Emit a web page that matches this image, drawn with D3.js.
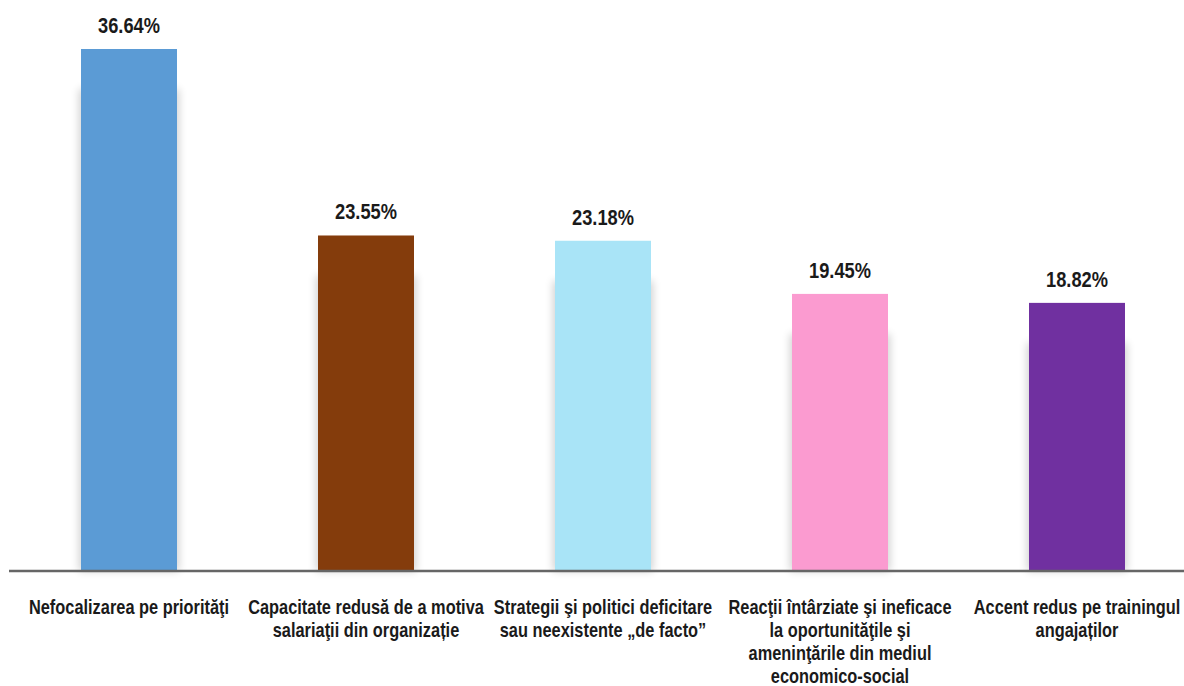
<!DOCTYPE html>
<html>
<head>
<meta charset="utf-8">
<script src="https://cdn.jsdelivr.net/npm/d3@7"></script>
<style>
  body { margin: 0; background: #fff; }
  text { font-family: "Liberation Sans", Arial, sans-serif; font-weight: bold; fill: #1a1a1a; }
</style>
</head>
<body>
<script>
// date
categorii = [
    ["Nefocalizarea pe priorităţi"],
    ["Capacitate redusă de a motiva", "salariaţii din organizație"],
    ["Strategii şi politici deficitare", "sau neexistente „de facto”"],
    ["Reacţii întârziate şi ineficace", "la oportunităţile şi", "ameninţările din mediul", "economico-social"],
    ["Accent redus pe trainingul", "angajaților"]
];
valori = [36.64, 23.55, 23.18, 19.45, 18.82];
culori = ["#5b9bd5", "#843c0c", "#a9e4f7", "#fb9bd0", "#7030a0"];

width = 1184;
height = 686;
baseY = 571;
ingust = 0.83; // fontul original e "narrow", il comprimam pe orizontala

svg = d3.select("body").append("svg")
    .attr("width", width)
    .attr("height", height);

// umbra fina pe laterale
defs = svg.append("defs");
defs.append("filter").attr("id", "umbra")
    .attr("x", "-30%").attr("y", "-10%").attr("width", "160%").attr("height", "120%")
    .append("feGaussianBlur").attr("stdDeviation", 4);

x = d3.scaleBand()
    .domain(d3.range(valori.length))
    .range([10.5, 1195.5])
    .paddingInner(0.595)
    .paddingOuter(0.2975);

y = d3.scaleLinear()
    .domain([0, 36.64])
    .range([baseY, 49]);

culoare = d3.scaleOrdinal().domain(d3.range(valori.length)).range(culori);

// umbre
svg.selectAll("rect.umbra")
    .data(valori)
    .enter().append("rect")
    .attr("class", "umbra")
    .attr("x", (d, i) => x(i) - 2)
    .attr("y", d => y(d) + 40)
    .attr("width", x.bandwidth() + 4)
    .attr("height", d => baseY - y(d) - 40)
    .attr("fill", "#000")
    .attr("opacity", 0.18)
    .attr("filter", "url(#umbra)");

// bare
svg.selectAll("rect.bar")
    .data(valori)
    .enter().append("rect")
    .attr("class", "bar")
    .attr("x", (d, i) => x(i))
    .attr("y", d => y(d))
    .attr("width", x.bandwidth())
    .attr("height", d => baseY - y(d))
    .attr("fill", (d, i) => culoare(i));

// axa orizontala
svg.append("line")
    .attr("x1", 9).attr("x2", width)
    .attr("y1", baseY).attr("y2", baseY)
    .attr("stroke", "#666")
    .attr("stroke-width", 2.5);

// etichete valori
svg.selectAll("g.val")
    .data(valori)
    .enter().append("g")
    .attr("class", "val")
    .attr("transform", (d, i) => `translate(${x(i) + x.bandwidth() / 2},${y(d) - 16}) scale(${ingust},1)`)
    .append("text")
    .attr("text-anchor", "middle")
    .style("font-size", "22px")
    .text(d => d.toFixed(2) + "%");

// etichete categorii
cat = svg.selectAll("g.cat")
    .data(categorii)
    .enter().append("g")
    .attr("class", "cat")
    .attr("transform", (d, i) => `translate(${x(i) + x.bandwidth() / 2},0) scale(0.84,1)`)
    .append("text")
    .attr("text-anchor", "middle")
    .style("font-size", "19.5px");

cat.selectAll("tspan")
    .data(d => d)
    .enter().append("tspan")
    .attr("x", 0)
    .attr("y", (d, j) => 614 + j * 23)
    .text(d => d);
</script>
</body>
</html>
